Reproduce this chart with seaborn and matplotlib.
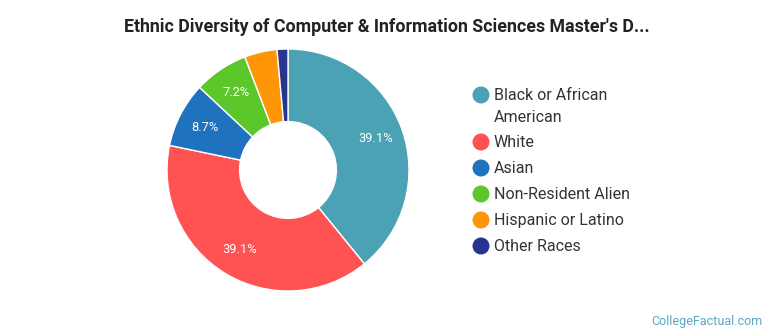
import matplotlib
matplotlib.use("Agg")
import matplotlib.pyplot as plt
import seaborn as sns

categories = ["Black or African\nAmerican", "White", "Asian", "Non-Resident Alien",
              "Hispanic or Latino", "Other Races"]
counts = [27, 27, 6, 5, 3, 1]
colors = ["#4AA2B4", "#FF5252", "#1F72BD", "#5CC72B", "#FF9607", "#27358E"]

sns.set_theme(style="white")
plt.rcParams['font.family'] = ['Roboto', 'DejaVu Sans']

fig = plt.figure(figsize=(7.7, 3.35), dpi=100)
W, H = 770, 335
cx, cy, r = 288, 170, 121
ax = fig.add_axes([(cx - r) / W, 1 - (cy + r) / H, 2 * r / W, 2 * r / H])

def fmt(p):
    return f"{p:.1f}%" if p > 5 else ""

wedges, texts, autotexts = ax.pie(
    counts, colors=sns.color_palette(colors), startangle=90, counterclock=False,
    radius=1, autopct=fmt, pctdistance=0.77,
    wedgeprops=dict(width=0.6, edgecolor="white", linewidth=1),
    textprops=dict(color="white", fontsize=9.3))
ax.set_xlim(-1, 1)
ax.set_ylim(-1, 1)
ax.set_aspect("equal")
ax.axis("off")

fig.text(387 / W, 1 - 27 / H, "Ethnic Diversity of Computer & Information Sciences Master's D...",
         ha="center", va="center", fontsize=12.8, fontweight="bold", color="#222222")

# legend drawn in figure pixel coordinates
lax = fig.add_axes([0, 0, 1, 1])
lax.set_xlim(0, W)
lax.set_ylim(H, 0)
lax.axis("off")
row_y = [95, 142, 168, 194, 220, 246]
for lab, c, y in zip(categories, colors, row_y):
    lax.scatter([481], [y], s=150, color=c, edgecolors="none")
    lax.text(494, y - 7, lab, ha="left", va="top", fontsize=11.5, color="#333333",
             linespacing=1.55)

fig.text(763 / W, 1 - 321 / H, "CollegeFactual.com", ha="right", va="center",
         fontsize=9, color="#5BA8C2")

fig.savefig("out.png", dpi=100)
